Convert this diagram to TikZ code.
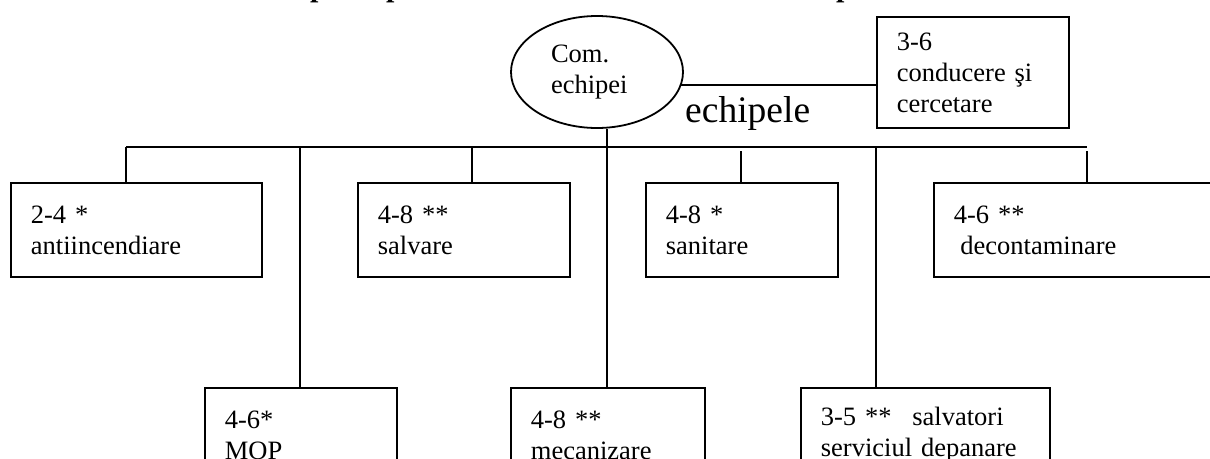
\documentclass[tikz,border=0pt]{standalone}
\usepackage{fontspec}
\setmainfont{Liberation Serif}
\usetikzlibrary{shapes.geometric}
\begin{document}
\begin{tikzpicture}[x=1pt,y=-1pt,
  txt/.style={font=\fontsize{26.5}{31}\selectfont},
  box/.style={txt, draw, line width=1.8pt, rectangle, anchor=north west,
    inner xsep=20pt, inner ysep=0pt, align=left, minimum height=94pt},
  conn/.style={line width=1.8pt},
  ttl/.style={font=\bfseries\fontsize{30}{30}\selectfont, anchor=base west, inner sep=0pt}]
\fill[white] (0,0) rectangle (1210,458);
\useasboundingbox (0,0) rectangle (1210,458);
% cut-off title fragments
\node[ttl] (t1) at (310,-3.5) {p};
\node[ttl] (t2) at (386,-3.5) {p};
\node[ttl] (t3) at (836,-3.5) {p};
% top
\node[txt, draw, ellipse, line width=1.8pt, minimum width=172pt, minimum height=112pt,
  inner sep=0pt, align=left, text width=92pt] (ell) at (597,72) {Com.\\echipei};
\node[box, minimum width=192pt, text width=152pt, minimum height=111pt] (lead) at (876,16)
  {3-6\\conducere şi\\cercetare};
\node[font=\fontsize{37.5}{40}\selectfont, anchor=base west, inner sep=0pt] (lab) at (685,122) {echipele};
% row 1
\node[box, minimum width=251pt, text width=211pt] (anti) at (10,182) {2-4 *\\antiincendiare};
\node[box, minimum width=212pt, text width=172pt] (salv) at (357,182) {4-8 **\\salvare};
\node[box, minimum width=192pt, text width=152pt] (sani) at (645,182) {4-8 *\\sanitare};
\node[box, minimum width=300pt, text width=260pt] (deco) at (933,182) {4-6 **\\\hspace*{6.5pt}decontaminare};
% row 2
\node[box, minimum width=192pt, text width=152pt] (mop) at (204,387) {4-6*\\MOP};
\node[box, minimum width=194pt, text width=154pt] (mec) at (510,387) {4-8 **\\mecanizare};
\node[box, minimum width=249pt, text width=209pt] (sdep) at (800,387) {3-5 **\hspace{12pt} salvatori\\serviciul depanare};
% bus coordinates
\coordinate (b1) at (126,147);
\coordinate (b2) at (300,147);
\coordinate (b3) at (472,147);
\coordinate (b4) at (607,147);
\coordinate (b5) at (741,151);
\coordinate (b6) at (876,147);
\coordinate (b7) at (1087,151);
\coordinate (bend) at (1087,147);
% connectors
\draw[conn] (ell.-9) -- (ell.-9 -| lead.west);
\draw[conn] (b1) -- (bend);
\draw[conn] (b4 |- ell.south) -- (b4 |- mec.north);
\draw[conn] (b1) -- (b1 |- anti.north);
\draw[conn] (b2) -- (b2 |- mop.north);
\draw[conn] (b3) -- (b3 |- salv.north);
\draw[conn] (b5) -- (b5 |- sani.north);
\draw[conn] (b6) -- (b6 |- sdep.north);
\draw[conn] (b7) -- (b7 |- deco.north);
\end{tikzpicture}
\end{document}
